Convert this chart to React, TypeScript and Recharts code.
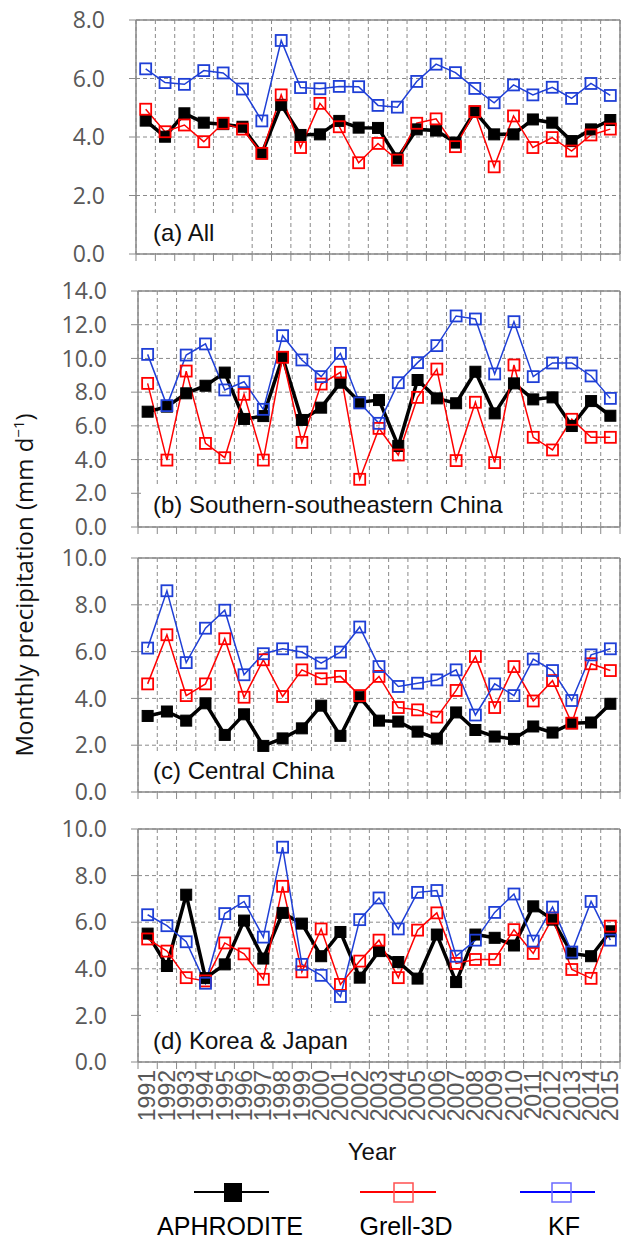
import React from 'react';
import { LineChart, Line, XAxis, YAxis, CartesianGrid, ReferenceLine } from 'recharts';

const years = [1991, 1992, 1993, 1994, 1995, 1996, 1997, 1998, 1999, 2000, 2001, 2002, 2003, 2004, 2005, 2006, 2007, 2008, 2009, 2010, 2011, 2012, 2013, 2014, 2015];

const aphroA = [4.56, 4.01, 4.81, 4.49, 4.44, 4.35, 3.44, 5.10, 4.07, 4.09, 4.55, 4.32, 4.31, 3.27, 4.26, 4.22, 3.81, 4.87, 4.09, 4.09, 4.60, 4.49, 3.86, 4.26, 4.58];
const grellA = [4.95, 4.18, 4.41, 3.84, 4.47, 4.27, 3.44, 5.44, 3.64, 5.15, 4.35, 3.12, 3.78, 3.21, 4.47, 4.62, 3.67, 4.87, 2.98, 4.72, 3.64, 3.98, 3.52, 4.07, 4.27];
const kfA = [6.33, 5.86, 5.80, 6.27, 6.19, 5.64, 4.55, 7.30, 5.69, 5.65, 5.73, 5.72, 5.08, 5.02, 5.90, 6.49, 6.20, 5.66, 5.17, 5.78, 5.44, 5.70, 5.32, 5.83, 5.42];

const aphroB = [6.84, 7.14, 7.93, 8.38, 9.16, 6.41, 6.58, 10.07, 6.35, 7.08, 8.56, 7.40, 7.53, 4.81, 8.72, 7.63, 7.34, 9.21, 6.74, 8.52, 7.57, 7.69, 5.99, 7.47, 6.60];
const grellB = [8.52, 3.97, 9.25, 4.96, 4.11, 7.87, 3.97, 10.07, 5.02, 8.48, 9.18, 2.83, 5.85, 4.27, 7.69, 9.37, 3.94, 7.40, 3.82, 9.61, 5.32, 4.57, 6.39, 5.32, 5.32];
const kfB = [10.24, 7.20, 10.20, 10.86, 8.13, 8.62, 6.98, 11.35, 9.91, 8.92, 10.30, 7.36, 6.15, 8.56, 9.75, 10.76, 12.52, 12.34, 9.08, 12.18, 8.92, 9.73, 9.73, 8.96, 7.63];

const aphroC = [3.25, 3.44, 3.05, 3.79, 2.44, 3.32, 1.97, 2.29, 2.72, 3.69, 2.40, 4.05, 3.05, 3.01, 2.58, 2.28, 3.40, 2.65, 2.37, 2.27, 2.80, 2.54, 2.94, 2.97, 3.77];
const grellC = [4.62, 6.72, 4.12, 4.62, 6.55, 4.05, 5.65, 4.08, 5.22, 4.84, 4.94, 4.12, 4.94, 3.61, 3.51, 3.20, 4.34, 5.79, 3.61, 5.36, 3.89, 4.76, 2.94, 5.48, 5.19];
const kfC = [6.15, 8.60, 5.53, 7.00, 7.77, 5.01, 5.91, 6.12, 5.98, 5.51, 5.98, 7.05, 5.36, 4.51, 4.65, 4.79, 5.22, 3.29, 4.62, 4.12, 5.68, 5.19, 3.91, 5.86, 6.12];

const aphroD = [5.51, 4.12, 7.18, 3.60, 4.19, 6.07, 4.44, 6.40, 5.94, 4.54, 5.58, 3.62, 4.76, 4.29, 3.58, 5.47, 3.43, 5.47, 5.33, 5.00, 6.68, 6.11, 4.66, 4.54, 5.61];
const grellD = [5.28, 4.76, 3.62, 3.48, 5.11, 4.64, 3.55, 7.54, 3.87, 5.71, 3.33, 4.33, 5.23, 3.62, 5.66, 6.40, 4.23, 4.40, 4.40, 5.68, 4.66, 6.18, 3.97, 3.59, 5.83];
const kfD = [6.32, 5.85, 5.16, 3.38, 6.37, 6.89, 5.36, 9.22, 4.19, 3.72, 2.81, 6.11, 7.04, 5.71, 7.28, 7.36, 4.54, 5.23, 6.42, 7.21, 5.19, 6.65, 4.72, 6.89, 5.23];

const ticksA = [0, 2, 4, 6, 8];
const ticksB = [0, 2, 4, 6, 8, 10, 12, 14];
const ticksCD = [0, 2, 4, 6, 8, 10];

const panelLabels = ['(a) All', '(b) Southern-southeastern China', '(c) Central China', '(d) Korea & Japan'];
const seriesNames = ['APHRODITE', 'Grell-3D', 'KF'];

const boundaryTicks = [years[0] - 0.5, ...years.map((y) => y + 0.5)];
const xDomain: [number, number] = [years[0] - 0.5, years[years.length - 1] + 0.5];

const GRAY = '#8a8a8a';
const BLACK = '#000000';
const RED = '#ff0000';
const BLUE = '#1f3fd6';

const makeSquare = (color: string, filled: boolean, size: number) => (props: any) => {
  const { cx, cy, index } = props;
  if (cx == null || cy == null) return <g key={`s-${index}`} />;
  return (
    <rect
      key={`s-${index}`}
      x={cx - size / 2}
      y={cy - size / 2}
      width={size}
      height={size}
      fill={filled ? color : 'none'}
      stroke={color}
      strokeWidth={filled ? 1 : 1.8}
    />
  );
};

const YearTick = (props: any) => {
  const { x, y, payload } = props;
  return (
    <text
      x={x}
      y={y}
      transform={`rotate(-90 ${x} ${y})`}
      textAnchor="end"
      dy="0.34em"
      fill="#595959"
      fontSize={23}
      fontFamily="Liberation Sans, Arial, sans-serif"
    >
      {payload.value}
    </text>
  );
};

type PanelProps = {
  top: number;
  height: number;
  marginTop: number;
  yWidth: number;
  yMax: number;
  yTicks: number[];
  aphro: number[];
  grell: number[];
  kf: number[];
  bottom?: boolean;
};

function Panel({ top, height, marginTop, yWidth, yMax, yTicks, aphro, grell, kf, bottom }: PanelProps) {
  const data = years.map((year, i) => ({ year, aphro: aphro[i], grell: grell[i], kf: kf[i] }));
  return (
    <div style={{ position: 'absolute', left: 0, top, width: 621, height }}>
      <LineChart width={621} height={height} data={data} margin={{ top: marginTop, right: 1, left: 0, bottom: 0 }}>
        <CartesianGrid stroke={GRAY} strokeDasharray="4 3" strokeWidth={1} />
        <XAxis
          dataKey="year"
          type="number"
          domain={xDomain}
          ticks={boundaryTicks}
          interval={0}
          height={bottom ? 8 : 20}
          tickSize={7}
          tickFormatter={() => ''}
          axisLine={{ stroke: GRAY, strokeWidth: 1.5 }}
          tickLine={{ stroke: GRAY, strokeWidth: 1 }}
        />
        {bottom && (
          <XAxis
            xAxisId="lab"
            dataKey="year"
            type="number"
            domain={xDomain}
            ticks={years}
            interval={0}
            height={70}
            tickSize={0}
            tickMargin={0}
            axisLine={false}
            tickLine={false}
            tick={<YearTick />}
          />
        )}
        <YAxis
          width={yWidth}
          domain={[0, yMax]}
          ticks={yTicks}
          interval={0}
          tickSize={7}
          tickMargin={24}
          tickFormatter={(v: number) => v.toFixed(1)}
          axisLine={{ stroke: GRAY, strokeWidth: 1.5 }}
          tickLine={{ stroke: GRAY, strokeWidth: 1 }}
          tick={{ fill: '#595959', fontSize: 23, fontFamily: 'Open Sans, sans-serif' }}
        />
        <ReferenceLine y={yMax} stroke={GRAY} strokeWidth={1.5} />
        <ReferenceLine x={xDomain[1]} stroke={GRAY} strokeWidth={1.5} />
        <Line
          dataKey="aphro"
          stroke={BLACK}
          strokeWidth={3.5}
          dot={makeSquare(BLACK, true, 11)}
          activeDot={false}
          isAnimationActive={false}
        />
        <Line
          dataKey="grell"
          stroke={RED}
          strokeWidth={1.5}
          dot={makeSquare(RED, false, 11)}
          activeDot={false}
          isAnimationActive={false}
        />
        <Line
          dataKey="kf"
          stroke={BLUE}
          strokeWidth={1.5}
          dot={makeSquare(BLUE, false, 11)}
          activeDot={false}
          isAnimationActive={false}
        />
      </LineChart>
    </div>
  );
}

const labelFont = 'Liberation Sans, Arial, sans-serif';

export default function App() {
  return (
    <div style={{ position: 'absolute', left: 0, top: 0, width: 621, height: 1240, background: '#fff' }}>
      <Panel top={0} height={274} marginTop={20} yWidth={136} yMax={8} yTicks={ticksA} aphro={aphroA} grell={grellA} kf={kfA} />
      <Panel top={270} height={277} marginTop={21} yWidth={138} yMax={14} yTicks={ticksB} aphro={aphroB} grell={grellB} kf={kfB} />
      <Panel top={535} height={277} marginTop={23} yWidth={138} yMax={10} yTicks={ticksCD} aphro={aphroC} grell={grellC} kf={kfC} />
      <Panel top={805} height={335} marginTop={24} yWidth={138} yMax={10} yTicks={ticksCD} aphro={aphroD} grell={grellD} kf={kfD} bottom />
      <svg width={621} height={1240} style={{ position: 'absolute', left: 0, top: 0, pointerEvents: 'none' }}>
        <rect x={141} y={216} width={98} height={37} fill="#fff" />
        <text x={153} y={241} fontSize={24} fontFamily={labelFont} fill="#111">{panelLabels[0]}</text>
        <rect x={141} y={487} width={379} height={39} fill="#fff" />
        <text x={153} y={513} fontSize={24} fontFamily={labelFont} fill="#111">{panelLabels[1]}</text>
        <rect x={141} y={754} width={215} height={37} fill="#fff" />
        <text x={153} y={779} fontSize={24} fontFamily={labelFont} fill="#111">{panelLabels[2]}</text>
        <rect x={141} y={1012} width={226} height={49} fill="#fff" />
        <text x={153} y={1049} fontSize={24} fontFamily={labelFont} fill="#111">{panelLabels[3]}</text>

        <text
          transform="rotate(-90)"
          x={-585}
          y={33}
          textAnchor="middle"
          fontSize={24}
          fontFamily="Open Sans, sans-serif"
          fill="#111"
        >
          Monthly precipitation (mm d<tspan fontSize={15} dy={-9}>−1</tspan><tspan dy={9}>)</tspan>
        </text>

        <text x={372} y={1160} textAnchor="middle" fontSize={24} fontFamily={labelFont} fill="#111">Year</text>

        <line x1={194} y1={1192} x2={269} y2={1192} stroke={BLACK} strokeWidth={2} />
        <rect x={224} y={1183} width={18} height={19} fill={BLACK} />
        <text x={230} y={1235} textAnchor="middle" fontSize={25} fontFamily={labelFont} fill="#000">{seriesNames[0]}</text>

        <line x1={360} y1={1192} x2={436} y2={1192} stroke={RED} strokeWidth={2} />
        <rect x={394} y={1183} width={19} height={19} fill="none" stroke="#ff5050" strokeWidth={1.5} />
        <text x={406} y={1235} textAnchor="middle" fontSize={25} fontFamily={labelFont} fill="#000">{seriesNames[1]}</text>

        <line x1={520} y1={1192} x2={595} y2={1192} stroke="#0000ff" strokeWidth={2} />
        <rect x={552} y={1183} width={19} height={19} fill="none" stroke="#6a6aff" strokeWidth={1.5} />
        <text x={564} y={1235} textAnchor="middle" fontSize={25} fontFamily={labelFont} fill="#000">{seriesNames[2]}</text>
      </svg>
    </div>
  );
}
